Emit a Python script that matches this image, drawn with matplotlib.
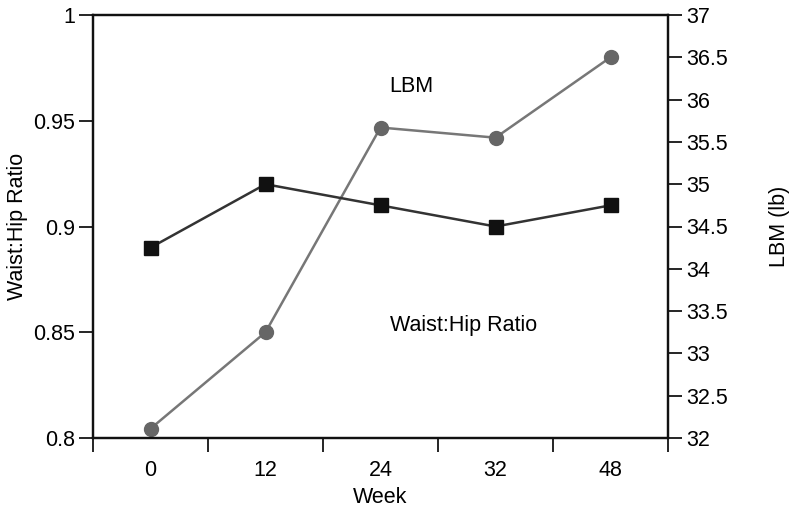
import numpy as np
import matplotlib
matplotlib.use("Agg")
import matplotlib.pyplot as plt

plt.rcParams['font.family'] = ['Liberation Sans', 'DejaVu Sans']

weeks = ["0", "12", "24", "32", "48"]
waist_hip = [0.89, 0.92, 0.91, 0.90, 0.91]
lbm = [32.11, 33.25, 35.67, 35.55, 36.5]

fs = 15.5

fig = plt.figure(figsize=(7.97, 5.08), dpi=100)
ax = fig.add_axes([93 / 797, 1 - 438 / 508, 575 / 797, 423 / 508])
ax2 = ax.twinx()

x = np.arange(len(weeks))

# LBM on the right axis (grey circles)
ax2.plot(x, lbm, color="#777777", lw=1.8, marker="o", ms=10,
         mfc="#666666", mec="#666666", zorder=2)
# waist:hip on the left axis (black squares)
ax.plot(x, waist_hip, color="#333333", lw=1.8, marker="s", ms=10.5,
        mfc="#111111", mec="#111111", zorder=3)
ax.set_zorder(ax2.get_zorder() + 1)
ax.patch.set_visible(False)

ax.set_xlim(-0.5, len(weeks) - 0.5)
ax.set_ylim(0.8, 1.0)
ax2.set_ylim(32, 37)

ax.set_yticks([0.8, 0.85, 0.9, 0.95, 1.0])
ax.set_yticklabels(["0.8", "0.85", "0.9", "0.95", "1"])
ax2.set_yticks(np.arange(32, 37.01, 0.5))
ax2.set_yticklabels(["32", "32.5", "33", "33.5", "34", "34.5", "35",
                     "35.5", "36", "36.5", "37"])

# ticks between categories, labels at the centres
ax.set_xticks(np.arange(-0.5, len(weeks), 1.0))
ax.set_xticklabels([])
ax.set_xticks(x, minor=True)
ax.set_xticklabels(weeks, minor=True)
ax.tick_params(axis="x", which="minor", length=0, pad=16, labelsize=fs)
ax.tick_params(axis="x", which="major", length=10, width=1.2)
ax.tick_params(axis="y", length=10, width=1.2, pad=3, labelsize=fs)
ax2.tick_params(axis="y", length=10, width=1.2, pad=3, labelsize=fs)

for a in (ax, ax2):
    for s in a.spines.values():
        s.set_linewidth(1.6)
        s.set_color("#111111")

ax.set_xlabel("Week", fontsize=fs, labelpad=4)
ax.set_ylabel("Waist:Hip Ratio", fontsize=fs, labelpad=4)
ax2.set_ylabel("LBM (lb)", fontsize=fs, labelpad=30)

ax.text(2.27, 0.966, "LBM", fontsize=fs, ha="center", va="center")
ax.text(2.72, 0.853, "Waist:Hip Ratio", fontsize=fs, ha="center", va="center")

fig.savefig("out.png", dpi=100)
